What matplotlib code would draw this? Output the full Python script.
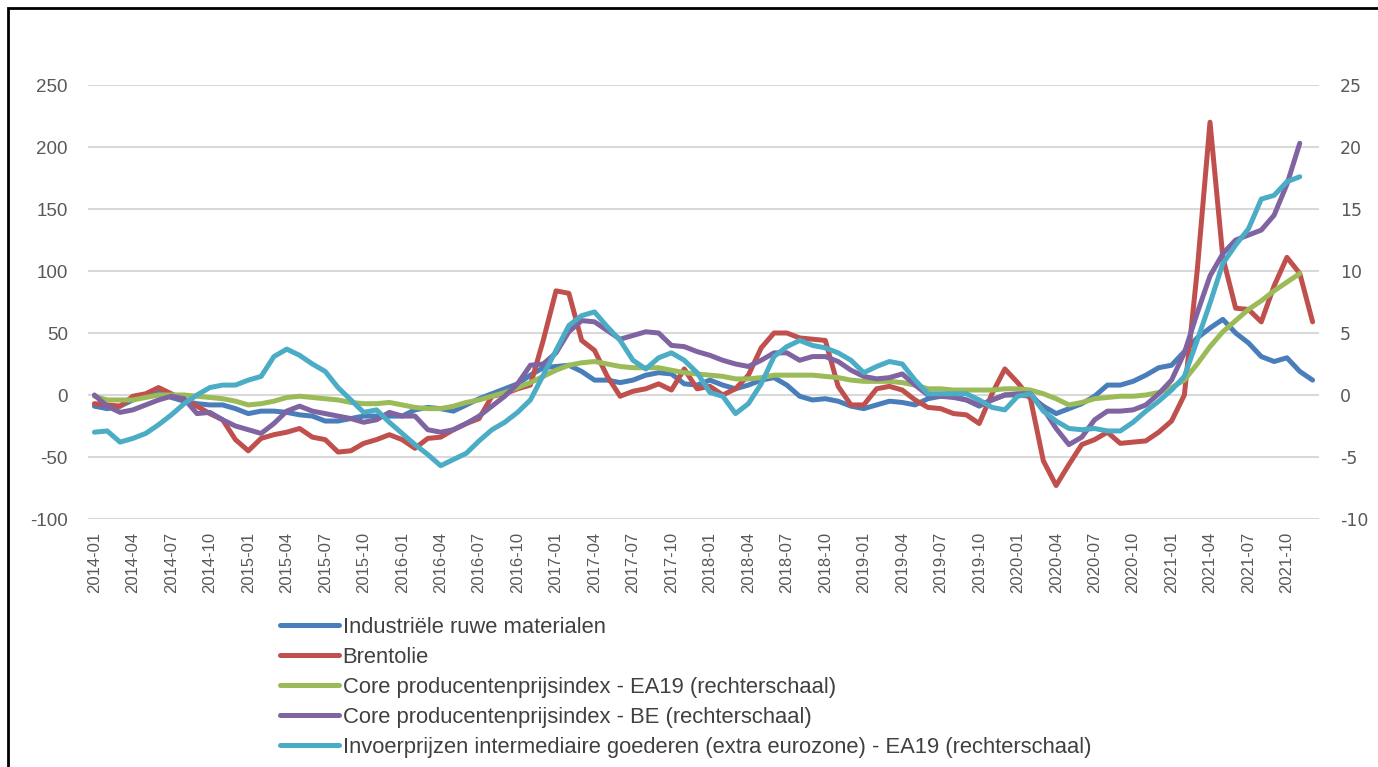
import numpy as np
import pandas as pd
import matplotlib

matplotlib.use("Agg")
import matplotlib.pyplot as plt
from matplotlib.patches import Rectangle

plt.rcParams["axes.unicode_minus"] = False

# maanden 2014-01 .. 2021-12
maanden = pd.date_range("2014-01-01", "2021-12-01", freq="MS").strftime("%Y-%m").tolist()

# linkerschaal
industriele = [-9, -11, -9, -4, 0, 3, -2, -5, -7, -8, -8, -11, -15, -13, -13, -14, -16, -17, -21, -21, -19, -17, -17, -17,
               -17, -12, -10, -11, -13, -8, -3, 1, 5, 9, 16, 22, 23, 24, 19, 12, 12, 10, 12, 16, 18, 17, 9, 8,
               12, 8, 5, 8, 12, 14, 8, -1, -4, -3, -5, -9, -11, -8, -5, -6, -8, -3, -1, -1, -4, -9, -4, 0,
               0, -1, -9, -15, -11, -7, -1, 8, 8, 11, 16, 22, 24, 35, 46, 54, 61, 50, 42, 31, 27, 30, 19, 12]
brentolie = [-7, -8, -9, -1, 1, 6, 1, -4, -9, -15, -20, -36, -45, -35, -32, -30, -27, -34, -36, -46, -45, -39, -36, -32,
             -36, -43, -35, -34, -28, -23, -19, -1, 1, 5, 8, 44, 84, 82, 44, 36, 15, -1, 3, 5, 9, 4, 21, 5,
             7, 0, 5, 16, 38, 50, 50, 46, 45, 44, 7, -8, -8, 5, 7, 4, -4, -10, -11, -15, -16, -23, 1, 21,
             10, -3, -53, -73, -56, -40, -36, -30, -39, -38, -37, -30, -21, 0, 100, 220, 111, 70, 69, 59, 88, 111, 98, 59]

# rechterschaal
core_ea19 = [-0.1, -0.4, -0.4, -0.4, -0.2, 0.0, 0.0, 0.0, -0.1, -0.2, -0.3, -0.5, -0.8, -0.7, -0.5, -0.2, -0.1, -0.2, -0.3, -0.4, -0.6, -0.7, -0.7, -0.6,
             -0.8, -1.0, -1.1, -1.1, -0.9, -0.6, -0.4, -0.1, 0.2, 0.6, 1.0, 1.5, 2.0, 2.4, 2.6, 2.7, 2.5, 2.3, 2.2, 2.2, 2.2, 2.0, 1.8, 1.7,
             1.6, 1.5, 1.3, 1.3, 1.4, 1.6, 1.6, 1.6, 1.6, 1.5, 1.4, 1.2, 1.1, 1.1, 1.1, 1.0, 0.8, 0.5, 0.5, 0.4, 0.4, 0.4, 0.4, 0.5,
             0.5, 0.4, 0.1, -0.3, -0.8, -0.6, -0.3, -0.2, -0.1, -0.1, 0.0, 0.2, 0.6, 1.2, 2.5, 3.9, 5.1, 6.0, 6.9, 7.6, 8.4, 9.1, 9.8, np.nan]
core_be = [0.0, -0.9, -1.4, -1.2, -0.8, -0.4, -0.1, -0.3, -1.5, -1.4, -2.0, -2.5, -2.8, -3.1, -2.3, -1.3, -0.9, -1.3, -1.5, -1.7, -1.9, -2.2, -2.0, -1.4,
           -1.7, -1.7, -2.8, -3.0, -2.8, -2.3, -1.7, -0.9, -0.1, 0.9, 2.4, 2.5, 3.4, 5.1, 6.0, 5.9, 5.2, 4.5, 4.8, 5.1, 5.0, 4.0, 3.9, 3.5,
           3.2, 2.8, 2.5, 2.3, 2.8, 3.4, 3.4, 2.8, 3.1, 3.1, 2.7, 2.0, 1.5, 1.3, 1.4, 1.7, 0.8, 0.0, -0.1, -0.2, -0.4, -0.8, -0.4, 0.0,
           0.1, 0.1, -1.1, -2.7, -4.0, -3.4, -2.0, -1.3, -1.3, -1.2, -0.8, 0.1, 1.2, 3.4, 6.6, 9.6, 11.4, 12.5, 12.9, 13.3, 14.5, 17.0, 20.3, np.nan]
invoer = [-3.0, -2.9, -3.8, -3.5, -3.1, -2.4, -1.6, -0.7, 0.0, 0.6, 0.8, 0.8, 1.2, 1.5, 3.1, 3.7, 3.2, 2.5, 1.9, 0.6, -0.4, -1.4, -1.2, -2.2,
          -3.1, -4.0, -4.8, -5.7, -5.2, -4.7, -3.7, -2.8, -2.2, -1.4, -0.4, 1.6, 3.6, 5.6, 6.4, 6.7, 5.5, 4.4, 2.8, 2.1, 3.0, 3.4, 2.8, 1.8,
          0.2, -0.1, -1.5, -0.7, 0.9, 3.1, 3.9, 4.4, 4.0, 3.8, 3.4, 2.8, 1.8, 2.3, 2.7, 2.5, 1.2, 0.1, 0.1, 0.1, 0.1, -0.4, -1.0, -1.2,
          -0.1, 0.1, -1.3, -2.1, -2.7, -2.8, -2.7, -2.9, -2.9, -2.2, -1.3, -0.5, 0.4, 1.5, 4.4, 7.4, 10.6, 12.1, 13.4, 15.8, 16.1, 17.2, 17.6, np.nan]

labels = ["Industriële ruwe materialen", "Brentolie",
          "Core producentenprijsindex - EA19 (rechterschaal)",
          "Core producentenprijsindex - BE (rechterschaal)",
          "Invoerprijzen intermediaire goederen (extra eurozone) - EA19 (rechterschaal)"]
kleuren = ["#4A7EBB", "#C0504D", "#9BBB59", "#8064A2", "#4BACC6"]

grijs = "#595959"
lw = 3.6

fig = plt.figure(figsize=(13.78, 7.67), dpi=100)
ax = fig.add_axes([88 / 1378, 1 - 519 / 767, (1319 - 88) / 1378, (519 - 85) / 767])
ax2 = ax.twinx()

x = np.arange(len(maanden))
ax.set_xlim(-0.5, len(maanden) - 0.5)
ax.set_ylim(-100, 250)
ax.set_yticks(range(-100, 251, 50))
ax2.set_ylim(-10, 25)
ax2.set_yticks(range(-10, 26, 5))
ax.grid(axis="y", color="#D9D9D9", lw=1.5)
ax.set_axisbelow(True)

lijnen = []
lijnen += ax.plot(x, industriele, color=kleuren[0], lw=lw, solid_capstyle="round")
lijnen += ax.plot(x, brentolie, color=kleuren[1], lw=lw, solid_capstyle="round")
lijnen += ax2.plot(x, core_ea19, color=kleuren[2], lw=lw, solid_capstyle="round")
lijnen += ax2.plot(x, core_be, color=kleuren[3], lw=lw, solid_capstyle="round")
lijnen += ax2.plot(x, invoer, color=kleuren[4], lw=lw, solid_capstyle="round")

ax.set_xticks(x[::3])
ax.set_xticklabels(maanden[::3], rotation=90, fontsize=12, color=grijs, family="Liberation Sans")
for a in (ax, ax2):
    for s in a.spines.values():
        s.set_visible(False)
    a.tick_params(length=0)
ax.tick_params(axis="x", pad=9)
ax.tick_params(axis="y", pad=14.5, labelsize=13.5, labelcolor=grijs)
ax2.tick_params(axis="y", pad=15, labelsize=12.5, labelcolor=grijs)
for t in ax.get_yticklabels():
    t.set_family("Liberation Sans")
for t in ax2.get_yticklabels():
    t.set_family("DejaVu Sans")

fig.legend(lijnen, labels, loc="upper left", bbox_to_anchor=(280 / 1378, 1 - 617 / 767),
           frameon=False, ncol=1, handlelength=2.7, handletextpad=0.15, labelspacing=0.41,
           borderpad=0, borderaxespad=0,
           prop={"family": "Liberation Sans", "size": 15.8}, labelcolor="#404040")

# kader van de schermafbeelding
fig.patches.append(Rectangle((8 / 1378, -0.1), 1.2, 1 - 8 / 767 + 0.1, transform=fig.transFigure,
                             fill=False, edgecolor="black", lw=2))

fig.savefig("out.png", dpi=100)
